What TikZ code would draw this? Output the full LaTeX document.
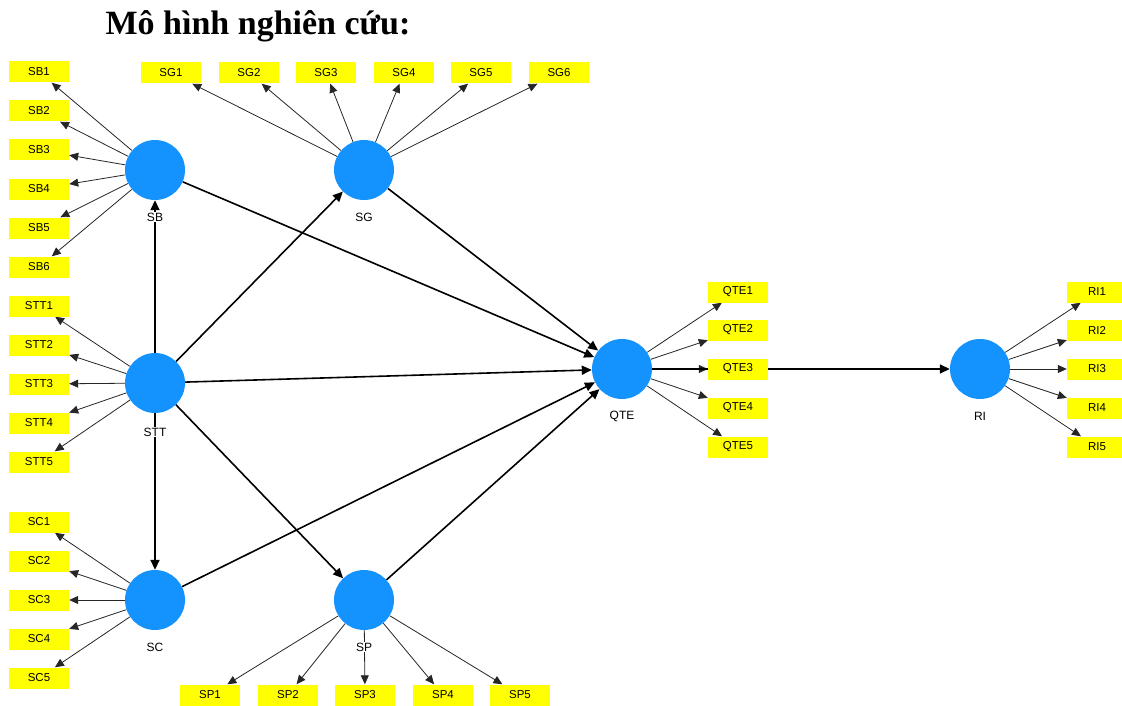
\documentclass[tikz,border=0pt]{standalone}
\usepackage{fontspec}
\setmainfont{Liberation Sans}
\newfontfamily\titlefont{Liberation Serif}
\usetikzlibrary{arrows.meta}
\definecolor{lvblue}{RGB}{20,147,255}
\definecolor{indyellow}{RGB}{255,255,0}
\pgfdeclarelayer{background}
\pgfsetlayers{background,main}
\begin{document}
\begin{tikzpicture}[x=1pt,y=-1pt,
  latent/.style={circle,fill=lvblue,minimum size=60pt,inner sep=0pt},
  indbox/.style={fill=indyellow,minimum width=60pt,minimum height=21pt,inner sep=0pt,
    font=\fontsize{11.5}{13}\selectfont},
  lvlabel/.style={fill=white,inner sep=1pt,font=\fontsize{12}{14}\selectfont},
  loadarrow/.style={draw=black!85,line width=0.8pt,-{Triangle[length=9pt,width=8pt]}},
  patharrow/.style={draw=black,line width=1.6pt,-{Triangle[length=10pt,width=9pt]}}]
\useasboundingbox (0,0) rectangle (1122,706);

% title
\node[anchor=base,inner sep=0pt,font=\titlefont\fontsize{34}{40}\selectfont\bfseries] (title) at (258,35) {Mô hình nghiên cứu:};

% latent variables
\node[latent] (SB) at (155,170) {};
\node[latent] (SG) at (364,170) {};
\node[latent] (STT) at (155,383) {};
\node[latent] (SC) at (155,600) {};
\node[latent] (SP) at (364,600) {};
\node[latent] (QTE) at (622,369) {};
\node[latent] (RI) at (980,369) {};

% latent labels
\node[lvlabel] (SBl) at (155,217) {SB};
\node[lvlabel] (SGl) at (364,217) {SG};
\node[lvlabel] (STTl) at (155,432) {STT};
\node[lvlabel] (SCl) at (155,647) {SC};
\node[lvlabel] (SPl) at (364,647) {SP};
\node[lvlabel] (QTEl) at (622,416) {QTE};
\node[lvlabel] (RIl) at (980,416) {RI};

% indicators
\foreach \i/\y in {1/72,2/111,3/150,4/189,5/228,6/267}
  \node[indbox] (SB\i) at (39,\y) {SB\i};
\foreach \i/\x in {1/171,2/249,3/326,4/404,5/481,6/559}
  \node[indbox] (SG\i) at (\x,73) {SG\i};
\foreach \i/\y in {1/306,2/345,3/384,4/423,5/462}
  \node[indbox] (STT\i) at (39,\y) {STT\i};
\foreach \i/\y in {1/522,2/561,3/600,4/639,5/678}
  \node[indbox] (SC\i) at (39,\y) {SC\i};
\foreach \i/\x in {1/210,2/288,3/365,4/443,5/520}
  \node[indbox] (SP\i) at (\x,695) {SP\i};
\foreach \i/\y in {1/292,2/330,3/369,4/408,5/447}
  \node[indbox] (QTE\i) at (738,\y) {QTE\i};
\foreach \i/\y in {1/292,2/330,3/369,4/408,5/447}
  \node[indbox] (RI\i) at (1097,\y) {RI\i};

\begin{pgfonlayer}{background}
  % outer loadings
  \foreach \i in {1,...,6} \draw[loadarrow] (SB) -- (SB\i);
  \foreach \i in {1,...,6} \draw[loadarrow] (SG) -- (SG\i);
  \foreach \i in {1,...,5} \draw[loadarrow] (STT) -- (STT\i);
  \foreach \i in {1,...,5} \draw[loadarrow] (SC) -- (SC\i);
  \foreach \i in {1,...,5} \draw[loadarrow] (SP) -- (SP\i);
  \foreach \i in {1,...,5} \draw[loadarrow] (QTE) -- (QTE\i);
  \foreach \i in {1,...,5} \draw[loadarrow] (RI) -- (RI\i);
  % structural paths
  \draw[patharrow] (STT) -- (SB);
  \draw[patharrow] (STT) -- (SG);
  \draw[patharrow] (STT) -- (SC);
  \draw[patharrow] (STT) -- (SP);
  \draw[patharrow] (STT) -- (QTE);
  \draw[patharrow] (SB) -- (QTE);
  \draw[patharrow] (SG) -- (QTE);
  \draw[patharrow] (SC) -- (QTE);
  \draw[patharrow] (SP) -- (QTE);
  \draw[patharrow] (QTE) -- (RI);
\end{pgfonlayer}
\end{tikzpicture}
\end{document}
